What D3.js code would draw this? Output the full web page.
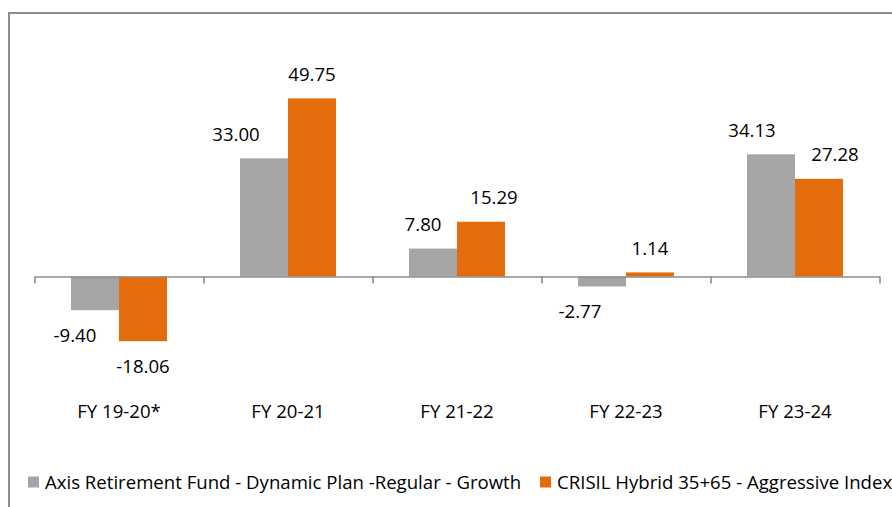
<!DOCTYPE html>
<html>
<head>
<meta charset="utf-8">
<script src="https://cdn.jsdelivr.net/npm/d3@7"></script>
<style>
  html, body { margin: 0; padding: 0; background: #fff; }
  svg text { font-family: "Open Sans", sans-serif; fill: #000; }
</style>
</head>
<body>
<div id="chart"></div>
<script>
// Chart values
const categories = ['FY 19-20*', 'FY 20-21', 'FY 21-22', 'FY 22-23', 'FY 23-24']
const seriesNames = ['Axis Retirement Fund - Dynamic Plan -Regular - Growth', 'CRISIL Hybrid 35+65 - Aggressive Index']
const axisFund = [-9.40, 33.00, 7.80, -2.77, 34.13]
const crisilIndex = [-18.06, 49.75, 15.29, 1.14, 27.28]
const seriesColors = ['#a5a5a5', '#e46c0a']

// label nudges, as placed in the original
const labelShiftFund = [-20, -28, -10, -22, -19]
const labelShiftIndex = [0, 0, 13, 0, 16]

// Our canvas
const width = 892,
  height = 507

const axisLeft = 34.5,
  axisRight = 879.5,
  zeroY = 276.5,
  pxPerUnit = 3.58

let svg = d3.select('#chart')
  .append('svg')
  .attr('width', width)
  .attr('height', height)

// outer frame (runs off the right and bottom edges)
svg.append('rect')
  .attr('x', 9)
  .attr('y', 13)
  .attr('width', 900)
  .attr('height', 520)
  .attr('fill', 'none')
  .attr('stroke', '#8c8c8c')
  .attr('stroke-width', 2)

// scales
let xScale = d3.scaleBand()
  .domain(categories)
  .range([axisLeft, axisRight])
  .paddingInner(0.432)
  .paddingOuter(0.216)

let xSub = d3.scaleBand()
  .domain([0, 1])
  .range([0, xScale.bandwidth()])

let yScale = d3.scaleLinear()
  .domain([-20, 60])
  .range([zeroY + 20 * pxPerUnit, zeroY - 60 * pxPerUnit])

let rows = []
categories.forEach((c, i) => {
  rows.push({ cat: c, s: 0, v: axisFund[i], dx: labelShiftFund[i] })
  rows.push({ cat: c, s: 1, v: crisilIndex[i], dx: labelShiftIndex[i] })
})

// bars
svg.selectAll('rect.bar')
  .data(rows)
  .enter()
  .append('rect')
  .attr('class', 'bar')
  .attr('x', d => xScale(d.cat) + xSub(d.s))
  .attr('y', d => yScale(Math.max(0, d.v)))
  .attr('width', xSub.bandwidth())
  .attr('height', d => Math.abs(yScale(d.v) - yScale(0)))
  .attr('fill', d => seriesColors[d.s])

// category axis with ticks between groups
let tickScale = d3.scaleLinear()
  .domain([0, categories.length])
  .range([axisLeft, axisRight])

let x_axis = d3.axisBottom()
  .scale(tickScale)
  .tickValues(d3.range(categories.length + 1))
  .tickFormat('')
  .tickSizeInner(7)
  .tickSizeOuter(0)

let gx = svg.append('g')
  .attr('transform', `translate(0, ${yScale(0)})`)
  .call(x_axis)
gx.selectAll('path, line')
  .attr('stroke', '#8c8c8c')
  .attr('stroke-width', 1.6)

svg.selectAll('text.cat')
  .data(categories)
  .enter()
  .append('text')
  .attr('class', 'cat')
  .attr('x', d => xScale(d) + xScale.bandwidth() / 2)
  .attr('y', 418)
  .attr('text-anchor', 'middle')
  .attr('font-size', 18.6)
  .text(d => d)

// value labels
svg.selectAll('text.val')
  .data(rows)
  .enter()
  .append('text')
  .attr('class', 'val')
  .attr('x', d => xScale(d.cat) + xSub(d.s) + xSub.bandwidth() / 2 + d.dx)
  .attr('y', d => d.v >= 0 ? yScale(d.v) - 24 : yScale(d.v) + 25)
  .attr('dy', '0.35em')
  .attr('text-anchor', 'middle')
  .attr('font-size', 18.6)
  .text(d => d.v.toFixed(2))

// legend
const legendX = [28, 540]
let lg = svg.selectAll('g.legend')
  .data(seriesNames)
  .enter()
  .append('g')
  .attr('class', 'legend')
  .attr('transform', (d, i) => `translate(${legendX[i]}, 482)`)

lg.append('rect')
  .attr('x', 0)
  .attr('y', -5.5)
  .attr('width', 11)
  .attr('height', 11)
  .attr('fill', (d, i) => seriesColors[i])

lg.append('text')
  .attr('x', 17)
  .attr('y', 0)
  .attr('dy', '0.35em')
  .attr('font-size', 18.6)
  .text(d => d)
</script>
</body>
</html>
